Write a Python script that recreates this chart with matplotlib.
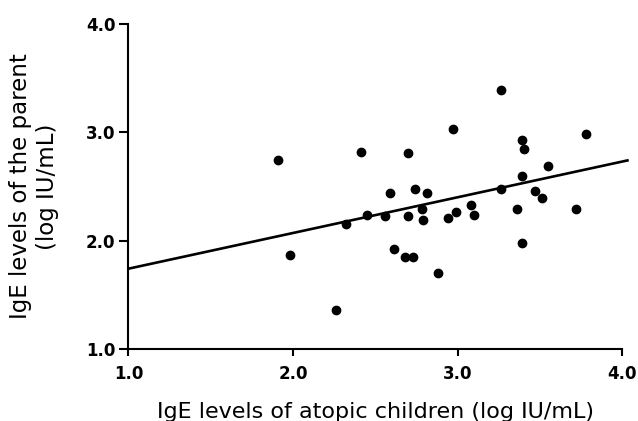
import numpy as np
import matplotlib.pyplot as plt

# values (log IU/mL)
children = [1.91, 1.98, 2.26, 2.32, 2.41, 2.45, 2.56, 2.59, 2.61, 2.68,
            2.73, 2.70, 2.70, 2.74, 2.78, 2.79, 2.81, 2.88, 2.94, 2.97,
            2.99, 3.08, 3.10, 3.26, 3.26, 3.36, 3.39, 3.40, 3.39, 3.39,
            3.47, 3.51, 3.55, 3.72, 3.78]
parent = [2.74, 1.87, 1.36, 2.15, 2.82, 2.24, 2.23, 2.44, 1.92, 1.85,
          1.85, 2.23, 2.81, 2.48, 2.29, 2.19, 2.44, 1.70, 2.21, 3.03,
          2.26, 2.33, 2.24, 3.39, 2.48, 2.29, 2.93, 2.85, 2.60, 1.98,
          2.46, 2.39, 2.69, 2.29, 2.98]

# regression line
intercept = 1.41
slope = 0.33
line_x = [1.0, 4.03]

ticks = [1.0, 2.0, 3.0, 4.0]

plt.rcParams['font.family'] = ['DejaVu Sans']

fig = plt.figure(figsize=(6.38, 4.21), dpi=100)
ax = fig.add_axes([0.2014, 0.1715, 0.7743, 0.7715])

ax.plot(children, parent, 'o', color='black', markersize=6, clip_on=False)
lx = np.array(line_x)
ax.plot(lx, intercept + slope * lx, color='black', linewidth=1.9, clip_on=False)

ax.set_xlim(1.0, 4.0)
ax.set_ylim(1.0, 4.0)
ax.set_xticks(ticks)
ax.set_yticks(ticks)
ax.set_xticklabels(['%.1f' % t for t in ticks], fontweight='bold', fontsize=12)
ax.set_yticklabels(['%.1f' % t for t in ticks], fontweight='bold', fontsize=12)

for s in ['top', 'right']:
    ax.spines[s].set_visible(False)
for s in ['left', 'bottom']:
    ax.spines[s].set_linewidth(1.5)

ax.tick_params(axis='x', direction='out', length=5, width=1.5, pad=7)
ax.tick_params(axis='y', direction='out', length=6.5, width=1.5, pad=3)

ax.set_xlabel('IgE levels of atopic children (log IU/mL)', fontsize=16, labelpad=13)
ax.set_ylabel('IgE levels of the parent\n(log IU/mL)', fontsize=16.5, labelpad=19,
              linespacing=1.25)

fig.savefig('out.png', dpi=100)
